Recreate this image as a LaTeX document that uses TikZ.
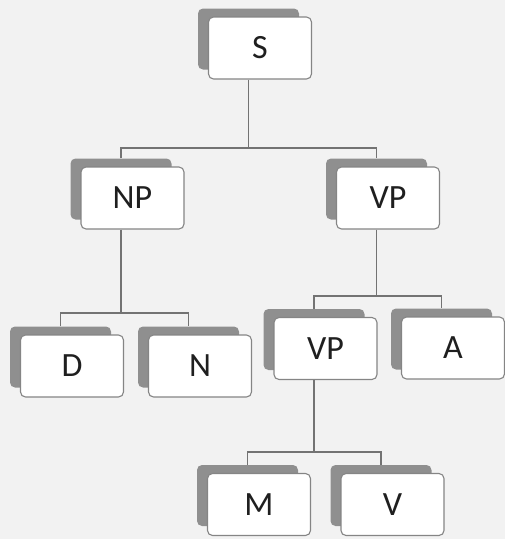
\documentclass[tikz,border=0pt]{standalone}
\usepackage{fontspec}
\setmainfont{Carlito}
\begin{document}
\begin{tikzpicture}[x=1pt,y=-1pt,
  back/.style={draw=none,fill=black!44,rounded corners=5pt,
    minimum width=101pt,minimum height=61pt,inner sep=0pt},
  front/.style={draw=black!48,line width=1.1pt,fill=white,rounded corners=5pt,
    minimum width=103pt,minimum height=62pt,inner sep=0pt,
    text=black!88,font=\fontsize{34}{40}\selectfont},
  conn/.style={draw=black!55,line width=1.2pt}]
  % canvas
  \fill[black!5] (0,0) rectangle (505,539);
  \useasboundingbox (0,0) rectangle (505,539);
  % boxes: a grey card behind each labelled card
  \foreach \n/\x/\y/\t in {S/260/48/S, NP/132.5/198/NP, VP/388/198/VP,
      D/72/366/D, N/200/366/N, VPb/325.5/348.5/VP, A/453/348/A,
      M/259/504.5/M, V/392.5/504.5/V}{
    \node[back] (\n-back) at (\x-11.5,\y-9) {};
    \node[front] (\n) at (\x,\y) {\t};
  }
  % heights of the horizontal bars
  \coordinate (b1) at (0,148);
  \coordinate (b2) at (0,313);
  \coordinate (b3) at (0,296);
  \coordinate (b4) at (0,452);
  % S -> NP, VP
  \draw[conn] (S-back.center |- S.south) -- (S-back.center |- b1);
  \draw[conn] (NP-back.north) -- (NP-back.north |- b1) -- (VP-back.north |- b1) -- (VP-back.north);
  % NP -> D, N
  \draw[conn] (NP-back.center |- NP.south) -- (NP-back.center |- b2);
  \draw[conn] (D-back.north) -- (D-back.north |- b2) -- (N-back.north |- b2) -- (N-back.north);
  % VP -> VP, A
  \draw[conn] (VP-back.center |- VP.south) -- (VP-back.center |- b3);
  \draw[conn] (VPb-back.north) -- (VPb-back.north |- b3) -- (A-back.north |- b3) -- (A-back.north);
  % VP -> M, V
  \draw[conn] (VPb-back.center |- VPb.south) -- (VPb-back.center |- b4);
  \draw[conn] (M-back.north) -- (M-back.north |- b4) -- (V-back.north |- b4) -- (V-back.north);
\end{tikzpicture}
\end{document}
